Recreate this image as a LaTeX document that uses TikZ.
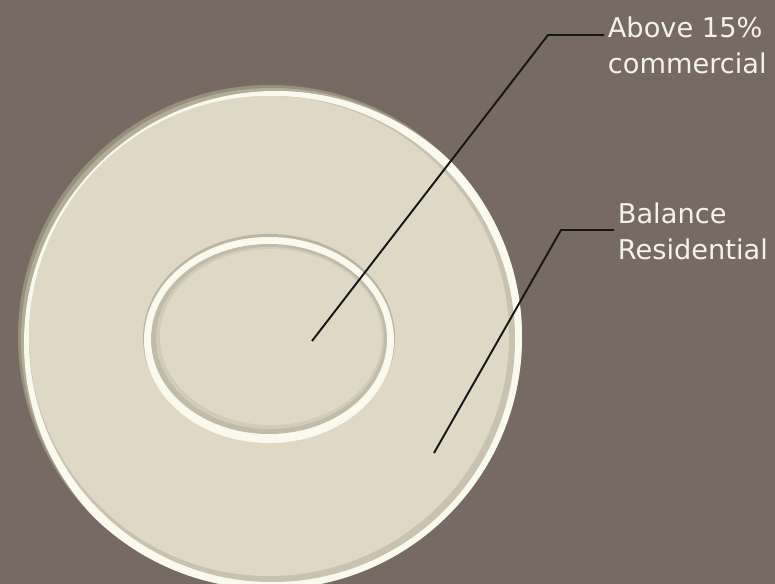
\documentclass[tikz,border=0pt]{standalone}
\usepackage{fontspec}
\setmainfont{DejaVu Sans}
\definecolor{bgTaupe}{RGB}{118,106,98}
\definecolor{discCream}{RGB}{222,216,196}
\definecolor{rimWhite}{RGB}{250,249,238}
\definecolor{rimShade}{RGB}{158,154,132}
\definecolor{leadBlack}{RGB}{22,22,22}
\definecolor{labelWhite}{RGB}{244,242,234}

\begin{document}
\begin{tikzpicture}[x=0.02cm, y=-0.02cm,
    lbl/.style={text=labelWhite, align=left, anchor=west, inner sep=2pt,
      font=\fontsize{15.5}{20.5}\selectfont},
    lead/.style={leadBlack, line width=1.1pt}]
  \useasboundingbox (0,0) rectangle (775,584);
  \clip (0,0) rectangle (775,584);
  \fill[bgTaupe] (0,0) rectangle (775,584);

  % outer disc, raised rim
  \fill[rimShade!80!bgTaupe] (270,337) circle [radius=252];
  \begin{scope}
    \clip (270,337) circle [radius=252];
    \fill[rimShade!70!discCream] (272,339) circle [radius=251];
    \fill[rimWhite] (276,343) circle [radius=252];
    \fill[rimShade!35!discCream] (272,339) circle [radius=243];
    \fill[discCream] (269,336) circle [radius=240];
  \end{scope}

  % inner ring
  \fill[rimShade!55!discCream] (269,338) ellipse [x radius=126, y radius=104];
  \fill[rimWhite] (269,340) ellipse [x radius=125, y radius=103];
  \fill[rimShade!45!discCream] (269,339) ellipse [x radius=118, y radius=95];
  \fill[rimShade!20!discCream] (270,338) ellipse [x radius=114, y radius=91];
  \fill[discCream] (271,337) ellipse [x radius=111, y radius=88];

  % labels and leaders
  \coordinate (tipA) at (312,341);
  \coordinate (kneeA) at (548,35);
  \node[lbl] (labA) at (604,45) {Above 15\%\\commercial};
  \draw[lead] (tipA) -- (kneeA) -- (kneeA -| labA.west);

  \coordinate (tipB) at (434,453);
  \coordinate (kneeB) at (561,230);
  \node[lbl] (labB) at (614,231) {Balance\\Residential};
  \draw[lead] (tipB) -- (kneeB) -- (kneeB -| labB.west);
\end{tikzpicture}
\end{document}
